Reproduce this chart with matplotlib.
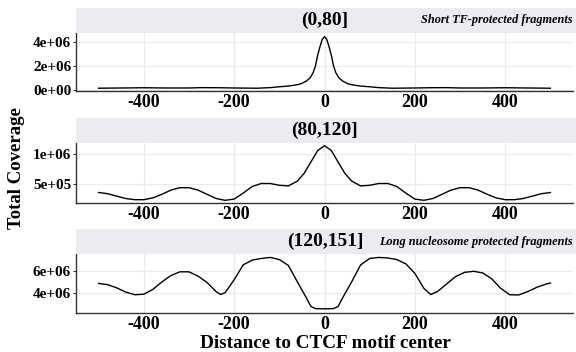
import matplotlib
matplotlib.use("Agg")
import matplotlib.pyplot as plt

plt.rcParams['font.family'] = ['Liberation Serif', 'DejaVu Serif']
plt.rcParams['font.weight'] = 'bold'

# (0,80] short fragments
x_short = [-500, -450, -400, -350, -300, -270, -230, -200, -150, -120, -100, -80, -60,
           -50, -40, -32, -25, -20, -15, -10, -5, 0, 5, 10, 15, 20, 25, 32, 40, 50, 60,
           80, 100, 120, 150, 200, 230, 270, 300, 350, 400, 450, 500]
y_short = [0.15, 0.17, 0.19, 0.17, 0.17, 0.20, 0.19, 0.17, 0.15, 0.20, 0.27, 0.33, 0.44,
           0.55, 0.75, 1.0, 1.45, 2.0, 2.9, 3.6, 4.2, 4.42, 4.2, 3.6, 2.9, 2.0, 1.45, 1.0, 0.75,
           0.55, 0.44, 0.33, 0.27, 0.20, 0.15, 0.17, 0.19, 0.20, 0.17, 0.17, 0.19, 0.17, 0.15]

# (80,120]
x_mid = [-500, -480, -460, -440, -420, -400, -380, -360, -340, -320, -300, -280, -260,
         -240, -220, -200, -180, -160, -140, -120, -100, -80, -60, -45, -30, -15, 0,
         15, 30, 45, 60, 80, 100, 120, 140, 160, 180, 200, 220, 240, 260, 280, 300,
         320, 340, 360, 380, 400, 420, 440, 460, 480, 500]
y_mid = [0.36, 0.34, 0.30, 0.26, 0.24, 0.24, 0.27, 0.33, 0.40, 0.44, 0.44, 0.40, 0.33,
         0.26, 0.23, 0.25, 0.35, 0.46, 0.51, 0.51, 0.48, 0.47, 0.55, 0.68, 0.87, 1.06, 1.14,
         1.06, 0.87, 0.68, 0.55, 0.47, 0.48, 0.51, 0.51, 0.46, 0.35, 0.25, 0.23, 0.26, 0.33,
         0.40, 0.44, 0.44, 0.40, 0.33, 0.27, 0.24, 0.24, 0.26, 0.30, 0.34, 0.36]

# (120,151] long fragments
x_long = [-500, -480, -460, -440, -420, -400, -380, -360, -340, -320, -300, -280, -260,
          -240, -230, -220, -200, -180, -160, -140, -120, -100, -80, -60, -40, -30, -20,
          0, 20, 30, 40, 60, 80, 100, 120, 140, 160, 180, 200, 220, 235, 250, 270, 290,
          310, 330, 350, 370, 390, 410, 430, 450, 470, 490, 500]
y_long = [4.86, 4.75, 4.45, 4.05, 3.80, 3.85, 4.30, 5.00, 5.60, 5.95, 5.95, 5.55, 4.95,
          4.10, 3.82, 4.00, 5.20, 6.60, 7.05, 7.20, 7.30, 7.10, 6.55, 5.00, 3.50, 2.70, 2.50,
          2.48, 2.50, 2.70, 3.50, 5.00, 6.60, 7.20, 7.30, 7.25, 7.10, 6.70, 5.80, 4.40,
          3.82, 4.10, 4.80, 5.50, 5.90, 6.00, 5.85, 5.30, 4.40, 3.80, 3.78, 4.10, 4.50,
          4.80, 4.90]

panels = [
    ("(0,80]", "Short TF-protected fragments", x_short, y_short,
     [0, 2e6, 4e6], ["0e+00", "2e+06", "4e+06"], (-0.08e6, 4.73e6)),
    ("(80,120]", "", x_mid, y_mid,
     [5e5, 1e6], ["5e+05", "1e+06"], (0.185e6, 1.185e6)),
    ("(120,151]", "Long nucleosome protected fragments", x_long, y_long,
     [4e6, 6e6], ["4e+06", "6e+06"], (2.09e6, 7.62e6)),
]

W, H = 576, 352
fig = plt.figure(figsize=(W / 100, H / 100), dpi=100)

left, right = 76, 573
boxes = [(33, 91), (143, 203), (254, 313)]
strip_h = 25

for (title, note, xs, ys, yt, ylab, ylim), (top, bot) in zip(panels, boxes):
    ax = fig.add_axes([left / W, 1 - bot / H, (right - left) / W, (bot - top) / H])
    ax.plot(xs, [v * 1e6 for v in ys], color='black', lw=1.0)
    ax.set_xlim(-550, 550)
    ax.set_ylim(*ylim)
    ax.set_xticks([-400, -200, 0, 200, 400])
    ax.set_xticklabels(['-400', '-200', '0', '200', '400'], fontsize=13, fontweight='bold')
    ax.set_yticks(yt)
    ax.set_yticklabels(ylab, fontsize=11, fontweight='bold')
    ax.tick_params(axis='x', length=0, pad=2.5)
    ax.tick_params(axis='y', length=2.5, width=0.8, color='#333333', pad=1)
    ax.grid(True, color='#EBEBEB', lw=0.9)
    ax.set_axisbelow(True)
    for s in ['top', 'right']:
        ax.spines[s].set_visible(False)
    for s in ['left', 'bottom']:
        ax.spines[s].set_color('#333333')
        ax.spines[s].set_linewidth(1.0)

    sax = fig.add_axes([left / W, 1 - top / H, (W - left) / W, strip_h / H])
    sax.set_facecolor('#EBEBF0')
    sax.set_xticks([])
    sax.set_yticks([])
    for s in sax.spines.values():
        s.set_visible(False)
    cx = (325 - left) / (W - left)
    sax.text(cx, 0.5, title, ha='center', va='center', fontsize=14, fontweight='bold',
             transform=sax.transAxes)
    if note:
        sax.text(0.993, 0.5, note, ha='right', va='center', fontsize=8.8,
                 fontweight='bold', style='italic', transform=sax.transAxes)

fig.text(325 / W, 1 - 343 / H, "Distance to CTCF motif center", ha='center', va='center',
         fontsize=13.8, fontweight='bold')
fig.text(17 / W, 1 - 168 / H, "Total Coverage", ha='center', va='center', rotation=90,
         fontsize=13.5, fontweight='bold')

fig.savefig("out.png", dpi=100)
